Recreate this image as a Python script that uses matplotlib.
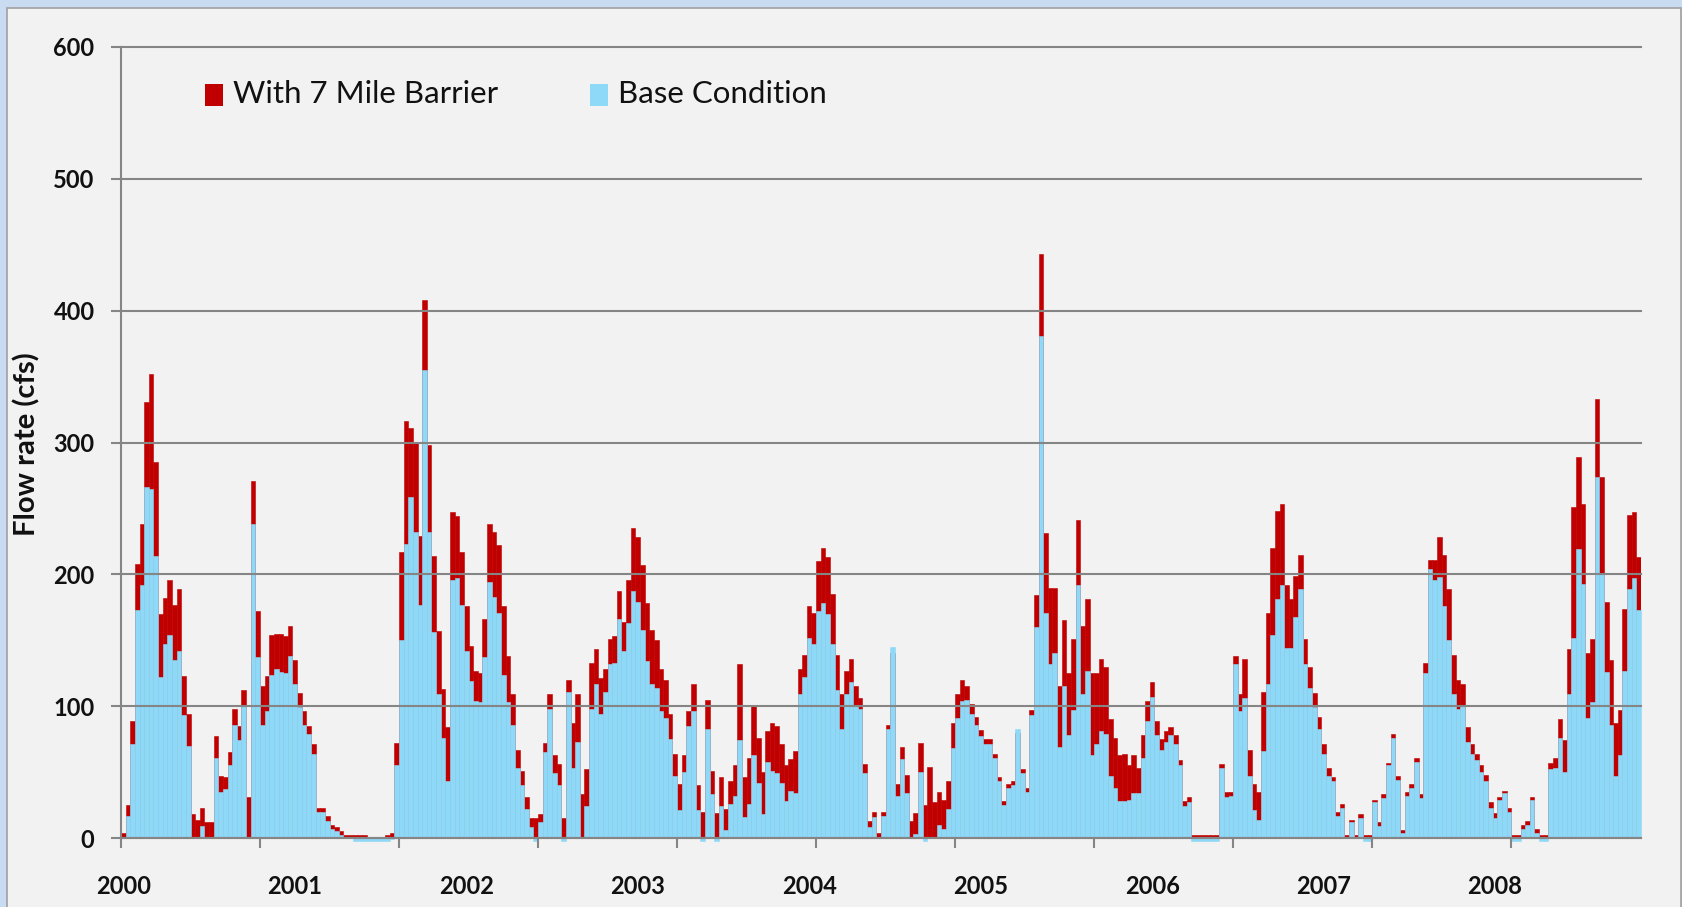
import matplotlib
matplotlib.use('Agg')
import matplotlib.pyplot as plt
from matplotlib.patches import Rectangle
import numpy as np

# ---------------- data (about 3 values per month, 2000 - 2008) ----------------
barrier = [  # "With 7 Mile Barrier" (cfs)
    4, 25, 89, 208, 238, 331, 352, 285, 170, 182, 196, 177, 189, 123, 94, 18, 14, 23, 12, 12,
    77, 47, 46, 65, 98, 85, 112, 31, 271, 172, 115, 123, 154, 155, 155, 153, 161,
    135, 110, 96, 85, 71, 23, 23, 17, 10, 8, 5, 2, 2, 2, 2, 2, 0, 0, 0, 0, 2, 4, 72, 217,
    316, 311, 300, 229, 408, 298, 214, 157, 113, 84, 247, 244,
    217, 176, 146, 127, 125, 166, 238, 232, 222, 176, 138, 109, 67, 51, 31, 15, 15, 18, 72, 109,
    63, 56, 15, 120, 87, 109, 33, 52, 133, 143, 121, 128, 151, 153, 187, 164,
    196, 235, 228, 207, 178, 158, 150, 128, 120, 94, 64, 41, 63, 96, 117, 40, 20, 105, 51, 19,
    46, 22, 43, 55, 132, 46, 61, 100, 76, 50, 81, 87, 85, 71, 55, 60, 66,
    128, 139, 176, 171, 210, 220, 213, 185, 139, 109, 127, 136, 115, 106, 56, 13, 20, 4, 20, 86,
    140, 41, 69, 48, 13, 19, 72, 25, 54, 27, 35, 29, 43, 87, 109, 120, 115,
    102, 92, 82, 75, 75, 64, 46, 28, 41, 43, 80, 52, 38, 97, 184, 443, 231, 190, 190, 115,
    165, 125, 151, 241, 161, 181, 125, 125, 136, 130, 90, 76, 63, 64, 55, 63,
    53, 78, 104, 118, 89, 75, 81, 84, 78, 59, 28, 31, 2, 2, 2, 2, 2, 2, 56, 35,
    35, 138, 109, 136, 67, 41, 35, 111, 171, 220, 248, 253, 192, 181, 199, 215, 151, 130,
    110, 92, 71, 53, 46, 20, 26, 2, 14, 2, 18, 2, 2, 29, 12, 33, 57, 79, 47, 6,
    35, 41, 61, 33, 133, 211, 211, 228, 215, 189, 139, 120, 117, 84, 71, 64,
    55, 48, 27, 19, 31, 36, 23, 2, 2, 10, 13, 31, 7, 2, 2, 57, 61, 90, 74, 143,
    251, 289, 253, 140, 151, 333, 274, 179, 135, 87, 97, 174, 245, 247, 213,
]
base = [  # "Base Condition" (cfs)
    1, 17, 71, 173, 192, 266, 265, 214, 122, 147, 154, 135, 142, 93, 70, 0, 0, 9, 0, 0,
    61, 35, 37, 55, 86, 74, 100, 0, 238, 137, 86, 96, 124, 128, 126, 125, 138,
    117, 99, 86, 79, 64, 20, 20, 13, 7, 5, 2, 0, 0, -2, -2, -2, -2, -2, -2, -2, -2, -1, 55, 150,
    223, 259, 232, 177, 355, 232, 156, 109, 76, 43, 196, 197,
    177, 142, 119, 104, 103, 137, 194, 183, 171, 124, 103, 86, 53, 40, 22, 8, -2, 12, 65, 98,
    49, 40, -2, 111, 53, 73, 0, 24, 98, 117, 94, 111, 132, 133, 166, 142,
    163, 187, 179, 158, 134, 117, 114, 96, 91, 75, 47, 21, 50, 85, 96, 21, -2, 83, 33, -2,
    24, 6, 26, 32, 74, 16, 26, 63, 42, 18, 58, 51, 49, 42, 28, 36, 34,
    109, 122, 152, 147, 172, 178, 170, 147, 112, 83, 109, 118, 101, 98, 49, 8, 16, 1, 17, 83,
    145, 32, 60, 34, 0, 3, 50, -2, 0, 0, 10, 7, 22, 68, 91, 104, 105,
    94, 86, 77, 71, 71, 61, 43, 25, 38, 40, 83, 49, 35, 93, 160, 381, 171, 132, 140, 69,
    115, 78, 97, 192, 109, 127, 63, 71, 81, 79, 47, 38, 28, 28, 29, 34,
    34, 61, 89, 107, 78, 67, 73, 78, 71, 55, 24, 27, -2, -2, -2, -2, -2, -2, 53, 31,
    32, 132, 96, 106, 47, 21, 14, 66, 117, 154, 181, 192, 144, 144, 168, 189, 132, 114,
    99, 83, 64, 47, 43, 17, 23, 0, 12, 0, 15, -2, -2, 27, 9, 30, 55, 76, 44, 4,
    32, 38, 58, 30, 125, 204, 196, 198, 176, 150, 109, 98, 100, 73, 64, 59,
    50, 43, 23, 15, 29, 34, 20, -2, -2, 7, 10, 29, 4, -2, -2, 52, 53, 76, 50, 109,
    152, 219, 193, 91, 103, 274, 201, 126, 86, 47, 63, 127, 189, 197, 173,
]
year_labels = ['2000', '2001', '2002', '2003', '2004', '2005', '2006', '2007', '2008']
series_names = ['With 7 Mile Barrier', 'Base Condition']
y_label = 'Flow rate (cfs)'

# ---------------- styling ----------------
RED = '#c00000'
BLUE = '#8dd9f7'
GRID = '#858585'
FONT = ['Lato', 'DejaVu Sans']
plt.rcParams['font.family'] = FONT

W, H = 1682, 907
fig = plt.figure(figsize=(W / 100, H / 100), dpi=100, facecolor='#c8dbf0')
fig.add_artist(Rectangle((7 / W, -0.02), (1681 - 7) / W, 1.02 - 8 / H,
                         transform=fig.transFigure, facecolor='#f2f2f2',
                         edgecolor='#a0a0a0', lw=1.2, zorder=-10))

ax = fig.add_axes([121 / W, 1 - 838 / H, (1641 - 121) / W, (838 - 47) / H])
ax.set_facecolor('#f2f2f2')

n = len(barrier)
x = np.arange(n)
ax.bar(x, barrier, width=1.0, color=RED, edgecolor=RED, lw=0.4, zorder=1)
ax.bar(x, base, width=1.0, color=BLUE, edgecolor=BLUE, lw=0.4, zorder=1.5, clip_on=False)

ax.set_xlim(-0.5, n - 0.5)
ax.set_ylim(0, 600)
ax.set_axisbelow(False)

for s in ['top', 'right']:
    ax.spines[s].set_visible(False)
for s in ['left', 'bottom']:
    ax.spines[s].set_color(GRID)
    ax.spines[s].set_linewidth(1.5)

ax.set_yticks(range(0, 601, 100))
ax.yaxis.grid(True, color=GRID, lw=1.5)
for gl in ax.get_ygridlines():
    gl.set_clip_on(False)
ax.tick_params(axis='y', length=7, width=1.5, color=GRID, pad=12,
               labelsize=17, labelcolor='#111111')
for t in ax.get_yticklabels():
    t.set_fontweight('bold')

ax.set_xticks([-0.5 + 30 * k for k in range(11)])
ax.set_xticklabels([])
ax.tick_params(axis='x', which='major', direction='out', length=7, width=1.5, color=GRID)
ax.set_xticks([37 * k for k in range(len(year_labels))], minor=True)
ax.set_xticklabels(year_labels, minor=True, fontweight='bold', fontsize=17, color='#111111')
ax.tick_params(axis='x', which='minor', length=0, pad=27)

# legend
def fx(px):
    return px / W

def fy(py):
    return 1 - py / H

fig.add_artist(Rectangle((fx(205), fy(106)), 18 / W, 22 / H, transform=fig.transFigure,
                         facecolor=RED, edgecolor='none'))
fig.text(fx(233), fy(94), series_names[0], fontsize=22.5, va='center', ha='left', color='#111111')
fig.add_artist(Rectangle((fx(590), fy(106)), 18 / W, 22 / H, transform=fig.transFigure,
                         facecolor=BLUE, edgecolor='none'))
fig.text(fx(618), fy(94), series_names[1], fontsize=22.5, va='center', ha='left', color='#111111')

fig.text(fx(27), fy(444), y_label, rotation=90, fontsize=21, fontweight='bold',
         va='center', ha='center', color='#111111')

fig.savefig('out.png', dpi=100, facecolor=fig.get_facecolor())
